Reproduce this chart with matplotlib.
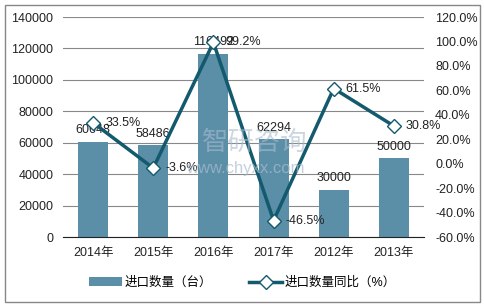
import matplotlib.pyplot as plt
from matplotlib.patches import Rectangle

plt.rcParams['font.family'] = ['Liberation Sans', 'Noto Sans CJK SC', 'DejaVu Sans']

years = ['2014年', '2015年', '2016年', '2017年', '2012年', '2013年']
qty = [60648, 58486, 116492, 62294, 30000, 50000]
yoy = [33.5, -3.6, 99.2, -46.5, 61.5, 30.8]

bar_color = '#5b8fa8'
line_color = '#135a6e'

fig = plt.figure(figsize=(4.85, 3.06), dpi=100)
ax = fig.add_axes([63 / 485, 1 - 237 / 306, (424 - 63) / 485, 220 / 306])
ax2 = ax.twinx()

x = list(range(len(years)))
ax.bar(x, qty, width=0.5, color=bar_color, zorder=2, label='进口数量（台）')
for xi, v in zip(x, qty):
    ax.text(xi, v + 3500, str(v), ha='center', va='bottom', fontsize=9, color='#222222', zorder=5)

ax.set_ylim(0, 140000)
ax.set_yticks(range(0, 140001, 20000))
ax.set_xlim(-0.5, len(years) - 0.5)
ax.set_xticks(x)
ax.set_xticklabels(years)
ax.grid(axis='y', color='#888888', linewidth=0.8, zorder=0)
ax.set_axisbelow(True)
for s in ['top', 'right', 'left']:
    ax.spines[s].set_visible(False)
ax.spines['bottom'].set_color('#222222')
ax.tick_params(axis='both', length=0, labelsize=9, colors='#222222')
ax.tick_params(axis='x', pad=7)
ax.tick_params(axis='y', pad=7)

ax2.plot(x, yoy, color=line_color, linewidth=2.5, marker='D', markersize=7,
         markerfacecolor='white', markeredgecolor=line_color, markeredgewidth=1,
         zorder=4, label='进口数量同比（%）')
for xi, v in zip(x, yoy):
    ax2.text(xi + 0.2, v, f'{v:.1f}%', ha='left', va='center', fontsize=9, color='#222222', zorder=5)
ax2.set_ylim(-60, 120)
ax2.set_yticks(range(-60, 121, 20))
ax2.set_yticklabels([f'{t:.1f}%' for t in range(-60, 121, 20)])
for s in ['top', 'right', 'left', 'bottom']:
    ax2.spines[s].set_visible(False)
ax2.tick_params(axis='y', length=0, labelsize=9, colors='#222222', pad=8)

# watermark
fig.text(255 / 485, 1 - 143 / 306, '智研咨询', fontsize=19, color='#a9bccc', alpha=0.6, ha='center', va='center')
fig.text(245 / 485, 1 - 168 / 306, 'www.chyxx.com', fontsize=12, color='#a9bccc', alpha=0.7, ha='center', va='center')

h1, l1 = ax.get_legend_handles_labels()
h2, l2 = ax2.get_legend_handles_labels()
fig.legend(h1 + h2, l1 + l2, loc='center', bbox_to_anchor=(0.5, 1 - 283 / 306), ncol=2,
           frameon=False, fontsize=9, handlelength=2.6, columnspacing=3, handletextpad=0.2)

fig.patches.append(Rectangle((5 / 485, 4 / 306), 475 / 485, 297 / 306, transform=fig.transFigure,
                             fill=False, edgecolor='#888888', linewidth=1))

fig.savefig('out.png', dpi=100)
